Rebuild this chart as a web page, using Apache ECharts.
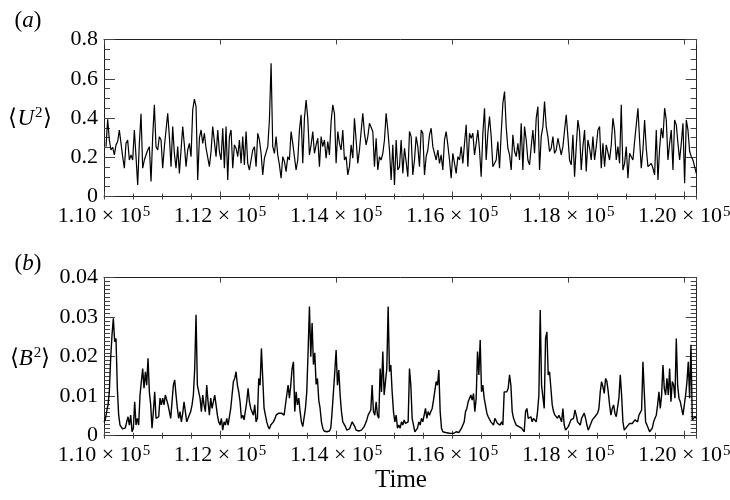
<!DOCTYPE html>
<html>
<head>
<meta charset="utf-8">
<script src="https://cdn.jsdelivr.net/npm/echarts@6/dist/echarts.min.js"></script>
<style>
html,body{margin:0;padding:0;background:#ffffff;}
#chart{width:730px;height:500px;}
</style>
</head>
<body>
<div id="chart"></div>
<script>
// ---------------- data ----------------
const panelLetters = ['a', 'b'];
const timeMin = 110000;
const timeMax = 120214;
const timeMajorStep = 2000;
const timeMinorStep = 500;
const uTicks = [0, 0.2, 0.4, 0.6, 0.8];
const bTicks = [0, 0.01, 0.02, 0.03, 0.04];

// sampling grid of the two time series
const timeStartA = 110034.5, timeStepA = 28.736;
const timeStartB = 110000, timeStepB = 22.989;

// <U^2>
const uSquared = [
0.254,0.394,0.288,0.237,0.251,0.212,0.263,0.280,0.339,0.271,
0.203,0.144,0.271,0.288,0.186,0.212,0.186,0.339,0.203,0.059,
0.271,0.421,0.144,0.186,0.178,0.237,0.254,0.076,0.305,0.467,
0.254,0.237,0.305,0.288,0.144,0.254,0.339,0.424,0.305,0.152,
0.356,0.220,0.144,0.254,0.118,0.237,0.356,0.263,0.152,0.237,
0.271,0.203,0.441,0.496,0.458,0.084,0.297,0.339,0.271,0.322,
0.246,0.246,0.152,0.229,0.356,0.356,0.203,0.339,0.229,0.186,
0.348,0.144,0.356,0.084,0.305,0.339,0.144,0.263,0.246,0.203,
0.288,0.169,0.305,0.161,0.331,0.169,0.135,
0.135,0.237,0.254,0.152,0.322,0.288,0.220,0.110,0.195,0.203,
0.254,0.390,0.679,0.254,0.220,0.305,0.212,0.161,0.093,0.203,
0.178,0.127,0.203,0.186,0.331,0.271,0.271,0.135,0.186,0.339,
0.416,0.169,0.399,0.492,0.399,0.212,0.263,0.331,0.220,0.263,
0.297,0.152,0.305,0.254,0.288,0.195,0.280,0.212,0.382,0.467,
0.424,0.169,0.331,0.271,0.237,0.339,0.186,0.203,0.110,0.152,
0.263,0.195,0.399,0.288,0.169,0.237,0.246,0.424,0.322,0.263,
0.305,0.373,0.365,0.331,0.152,0.297,0.135,0.203,0.186,0.220,
0.288,0.424,0.339,0.237,0.084,0.263,0.059,0.288,0.135,
0.152,0.288,0.118,0.246,0.178,0.101,0.331,0.305,0.110,0.186,
0.305,0.254,0.152,0.339,0.322,0.110,0.203,0.237,0.314,0.348,
0.254,0.263,0.186,0.237,0.169,0.212,0.135,0.288,0.331,0.263,
0.186,0.093,0.220,0.169,0.118,0.203,0.186,0.254,0.169,0.271,
0.365,0.152,0.322,0.297,0.322,0.212,0.271,0.339,0.237,0.101,
0.322,0.450,0.186,0.322,0.407,0.305,0.152,0.144,0.186,0.280,
0.144,0.322,0.475,0.535,0.356,0.246,0.212,0.135,0.314,0.229,
0.203,0.271,0.186,0.373,0.135,0.356,0.288,0.186,0.161,0.254,
0.339,0.220,0.399,0.458,0.135,0.305,0.356,0.484,0.356,
0.305,0.229,0.246,0.305,0.220,0.237,0.297,0.305,0.212,0.254,
0.339,0.416,0.305,0.186,0.161,0.314,0.101,0.254,0.390,0.331,
0.135,0.254,0.339,0.127,0.288,0.246,0.186,0.305,0.186,0.254,
0.339,0.356,0.144,0.271,0.152,0.263,0.271,0.186,0.263,0.399,
0.339,0.186,0.254,0.169,0.467,0.135,0.169,0.254,0.093,0.220,
0.203,0.186,0.280,0.365,0.450,0.288,0.144,0.237,0.390,0.246,
0.152,0.152,0.169,0.144,0.110,0.339,0.084,0.246,0.348,0.297,
0.450,0.390,0.186,0.271,0.339,0.135,0.390,0.365,0.271,0.186,
0.271,0.373,0.067,0.390,0.339,0.229,0.203,0.186,0.152,0.118
];

// <B^2>
const bSquared = [
0.0035,0.0041,0.0061,0.0078,0.0111,0.0196,0.0255,0.0297,0.0238,0.0246,
0.0120,0.0052,0.0027,0.0023,0.0017,0.0014,0.0020,0.0035,0.0048,0.0027,
0.0052,0.0010,0.0019,0.0086,0.0027,0.0044,0.0027,0.0103,0.0137,0.0170,
0.0120,0.0162,0.0128,0.0196,0.0111,0.0078,0.0019,0.0061,0.0111,0.0044,
0.0044,0.0048,0.0095,0.0078,0.0095,0.0078,0.0103,0.0103,0.0078,0.0061,
0.0044,0.0086,0.0128,0.0141,0.0103,0.0069,0.0044,0.0061,0.0035,0.0056,
0.0086,0.0061,0.0035,0.0044,0.0044,0.0061,0.0078,0.0103,0.0170,0.0306,
0.0128,0.0111,0.0095,0.0061,0.0103,0.0078,0.0061,0.0128,0.0086,0.0052,
0.0095,0.0069,0.0069,0.0103,0.0078,0.0052,0.0035,0.0027,0.0044,0.0014,
0.0035,0.0027,0.0044,0.0027,0.0027,0.0069,0.0103,0.0137,0.0145,0.0162,
0.0128,0.0111,0.0086,0.0044,0.0052,0.0040,0.0044,0.0086,0.0120,0.0086,0.0069,
0.0069,0.0052,0.0078,0.0035,0.0044,0.0145,0.0128,0.0221,0.0145,0.0069,
0.0052,0.0035,0.0023,0.0017,0.0027,0.0031,0.0035,0.0042,0.0052,0.0052,
0.0057,0.0061,0.0057,0.0052,0.0052,0.0048,0.0103,0.0128,0.0095,0.0128,
0.0170,0.0187,0.0061,0.0111,0.0078,0.0095,0.0061,0.0035,0.0023,0.0019,
0.0069,0.0111,0.0213,0.0327,0.0200,0.0285,0.0180,0.0210,0.0130,0.0145,
0.0090,0.0069,0.0035,0.0019,0.0012,0.0010,0.0010,0.0010,0.0012,0.0019,
0.0061,0.0111,0.0162,0.0217,0.0128,0.0166,0.0103,0.0061,0.0035,0.0031,
0.0023,0.0014,0.0010,0.0017,0.0014,0.0035,0.0035,0.0023,0.0014,0.0012,
0.0012,0.0014,0.0014,0.0014,0.0023,0.0031,0.0040,0.0052,0.0048,0.0065,
0.0128,0.0061,0.0052,0.0086,0.0052,0.0044,0.0170,0.0111,0.0213,0.0103,
0.0137,0.0170,0.0327,0.0162,0.0179,0.0111,0.0061,0.0035,0.0052,0.0019,0.0027,
0.0019,0.0035,0.0027,0.0040,0.0031,0.0027,0.0035,0.0170,0.0128,0.0044,
0.0027,0.0010,0.0006,0.0019,0.0035,0.0027,0.0044,0.0035,0.0052,0.0069,
0.0044,0.0061,0.0052,0.0061,0.0069,0.0090,0.0086,0.0137,0.0128,0.0166,
0.0061,0.0019,0.0010,0.0006,0.0008,0.0006,0.0007,0.0010,0.0006,0.0009,
0.0006,0.0008,0.0010,0.0006,0.0008,0.0012,0.0019,0.0027,0.0035,0.0061,
0.0069,0.0086,0.0095,0.0103,0.0090,0.0107,0.0061,0.0095,0.0213,0.0154,
0.0242,0.0111,0.0128,0.0095,0.0095,0.0057,0.0048,0.0052,0.0035,0.0040,
0.0027,0.0044,0.0048,0.0031,0.0031,0.0027,0.0035,0.0027,0.0111,0.0107,
0.0111,0.0120,0.0154,0.0128,0.0061,0.0044,0.0035,0.0027,0.0031,0.0023,
0.0027,0.0019,0.0023,0.0010,0.0061,0.0069,0.0044,0.0040,0.0048,0.0035,
0.0044,0.0044,0.0035,0.0061,0.0103,0.0318,0.0128,0.0128,0.0069,0.0246,0.0263,
0.0154,0.0162,0.0120,0.0078,0.0061,0.0052,0.0057,0.0044,0.0052,0.0044,
0.0035,0.0069,0.0027,0.0014,0.0017,0.0023,0.0031,0.0040,0.0035,0.0044,
0.0065,0.0052,0.0035,0.0035,0.0027,0.0044,0.0044,0.0057,0.0044,0.0027,
0.0014,0.0014,0.0031,0.0040,0.0044,0.0048,0.0048,0.0057,0.0069,0.0111,
0.0137,0.0124,0.0107,0.0145,0.0137,0.0111,0.0078,0.0052,0.0069,0.0078,
0.0057,0.0048,0.0048,0.0095,0.0154,0.0103,0.0035,0.0014,0.0019,0.0023,
0.0027,0.0031,0.0031,0.0031,0.0031,0.0040,0.0035,0.0035,0.0052,0.0057,
0.0065,0.0187,0.0111,0.0035,0.0027,0.0019,0.0010,0.0010,0.0019,0.0035,
0.0044,0.0052,0.0078,0.0111,0.0069,0.0103,0.0179,0.0120,0.0103,0.0145,
0.0103,0.0170,0.0086,0.0137,0.0128,0.0095,0.0246,0.0128,0.0095,0.0086,
0.0086,0.0052,0.0052,0.0103,0.0137,0.0187,0.0095,0.0230,0.0040,0.0040,
0.0048,0.0044
];

// ---------------- chart ----------------
const SERIF = "Liberation Serif";
const frameColor = '#222';
const tickColor = '#444';
const grids = [
  { left: 104, top: 39.5, width: 592.7, height: 157 },
  { left: 104, top: 277.7, width: 592.7, height: 158 }
];

function pairs(start, step, values) {
  return values.map((v, i) => [start + i * step, v]);
}

function xAxes(g) {
  const base = { gridIndex: g, type: 'value', min: timeMin, max: timeMax, splitLine: { show: false } };
  const line = { show: true, onZero: false, lineStyle: { color: frameColor, width: 1 } };
  return [
    Object.assign({}, base, {
      position: 'bottom', interval: timeMajorStep, axisLine: line,
      axisTick: { show: true, inside: true, length: 5, lineStyle: { color: tickColor, width: 1 } },
      axisLabel: {
        show: true, margin: 8, showMaxLabel: false, showMinLabel: true,
        formatter: function (v) {
          if (Math.abs(v % timeMajorStep) > 1e-6) return '';
          return '{m|' + (v / 1e5).toFixed(2) + ' × 10}{e|5}';
        },
        rich: {
          m: { fontFamily: SERIF, fontSize: 22, color: '#000', verticalAlign: 'bottom' },
          e: { fontFamily: SERIF, fontSize: 15, color: '#000', verticalAlign: 'bottom', padding: [0, 0, 8, 1] }
        }
      }
    }),
    Object.assign({}, base, {
      position: 'bottom', interval: timeMinorStep, axisLine: { show: false },
      axisTick: { show: true, inside: true, length: 3, lineStyle: { color: tickColor, width: 1 } },
      axisLabel: { show: false }
    }),
    Object.assign({}, base, {
      position: 'top', interval: timeMajorStep, axisLine: line,
      axisTick: { show: true, inside: true, length: 5, lineStyle: { color: tickColor, width: 1 } },
      axisLabel: { show: false }
    }),
    Object.assign({}, base, {
      position: 'top', interval: timeMinorStep, axisLine: { show: false },
      axisTick: { show: true, inside: true, length: 3, lineStyle: { color: tickColor, width: 1 } },
      axisLabel: { show: false }
    })
  ];
}

function yAxes(g, ticks, minorSplit, digits) {
  const base = {
    gridIndex: g, type: 'value', min: ticks[0], max: ticks[ticks.length - 1],
    interval: ticks[1] - ticks[0], splitLine: { show: false },
    axisLine: { show: true, onZero: false, lineStyle: { color: frameColor, width: 1 } },
    axisTick: { show: true, inside: true, length: 11, lineStyle: { color: tickColor, width: 1 } },
    minorTick: { show: true, splitNumber: minorSplit, length: 6, lineStyle: { color: tickColor, width: 1 } },
    minorSplitLine: { show: false }
  };
  return [
    Object.assign({}, base, {
      position: 'left',
      axisLabel: {
        show: true, margin: 6, color: '#000', fontFamily: SERIF, fontSize: 22,
        formatter: function (v) { return v === 0 ? '0' : v.toFixed(digits); }
      }
    }),
    Object.assign({}, base, { position: 'right', axisLabel: { show: false } })
  ];
}

const richTitle = {
  p: { fontFamily: SERIF, fontSize: 23, fill: '#000', verticalAlign: 'bottom' },
  i: { fontFamily: SERIF, fontSize: 23, fontStyle: 'italic', fill: '#000', verticalAlign: 'bottom' },
  s: { fontFamily: SERIF, fontSize: 15, fill: '#000', verticalAlign: 'bottom', padding: [0, 0, 10, 1] }
};

function textEl(x, y, text, size) {
  return {
    type: 'text', x: x, y: y, silent: true,
    style: {
      text: text, align: 'center', verticalAlign: 'middle', rich: richTitle,
      fontFamily: SERIF, fontSize: size || 23, fill: '#000'
    }
  };
}

const option = {
  animation: false,
  backgroundColor: '#ffffff',
  grid: grids.map(g => Object.assign({ outerBoundsMode: 'none', containLabel: false }, g)),
  xAxis: xAxes(0).concat(xAxes(1)),
  yAxis: yAxes(0, uTicks, 4, 1).concat(yAxes(1, bTicks, 10, 2)),
  graphic: [
    textEl(28, 21, '{p|(}{i|' + panelLetters[0] + '}{p|)}'),
    textEl(28, 264, '{p|(}{i|' + panelLetters[1] + '}{p|)}'),
    textEl(30, 118, '{p|⟨}{i|U}{s|2}{p|⟩}'),
    textEl(30, 358, '{p|⟨}{i|B}{s|2}{p|⟩}'),
    textEl(401, 480, 'Time', 25)
  ],
  series: [
    {
      type: 'line', xAxisIndex: 0, yAxisIndex: 0, showSymbol: false, symbol: 'none',
      lineStyle: { color: '#000', width: 1.2 }, data: pairs(timeStartA, timeStepA, uSquared)
    },
    {
      type: 'line', xAxisIndex: 4, yAxisIndex: 2, showSymbol: false, symbol: 'none',
      lineStyle: { color: '#000', width: 1.4 }, data: pairs(timeStartB, timeStepB, bSquared)
    }
  ]
};

const chart = echarts.init(document.getElementById('chart'), null, { renderer: 'canvas' });
chart.setOption(option);
</script>
</body>
</html>
